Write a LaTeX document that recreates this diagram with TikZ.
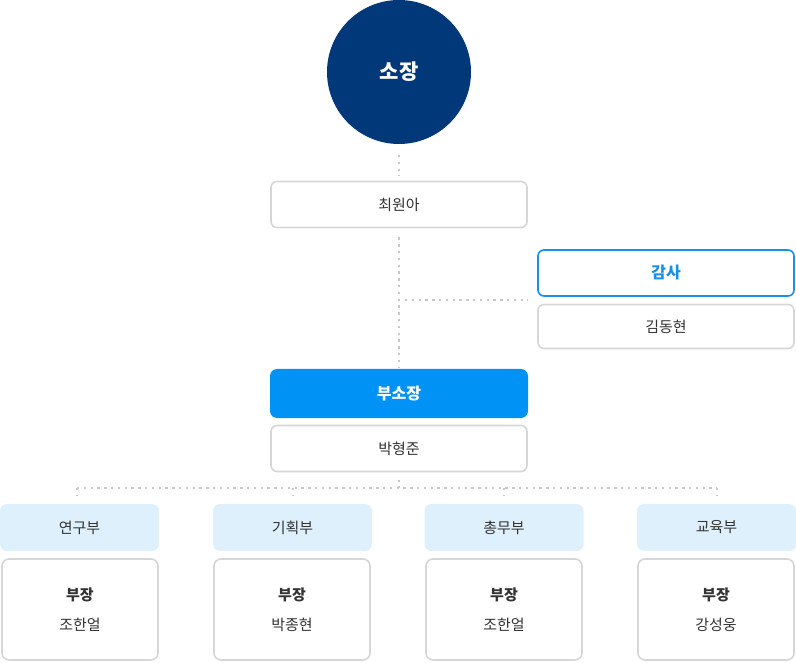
\documentclass[tikz,border=0pt]{standalone}
\usepackage{fontspec}
\setmainfont{Noto Sans CJK KR}
\definecolor{navy}{HTML}{00387A}
\definecolor{bblue}{HTML}{0093F5}
\definecolor{eblue}{HTML}{1A8FE8}
\definecolor{lblue}{HTML}{DDF0FC}
\definecolor{gborder}{HTML}{D6D6D6}
\definecolor{txt}{HTML}{333333}
\definecolor{dotc}{HTML}{C8C8C8}
\begin{document}
\begin{tikzpicture}[x=1pt,y=-1pt,
  every node/.style={inner sep=0pt, outer sep=0pt},
  wbox/.style={draw=gborder, line width=1.6pt, fill=white, rounded corners=6pt, minimum width=256pt, text=txt, font=\fontsize{15}{17}\selectfont},
  ebox/.style={draw=eblue, line width=1.6pt, fill=white, rounded corners=6pt, minimum width=256pt, text=eblue, font=\fontsize{16}{18}\selectfont\bfseries},
  fbox/.style={fill=bblue, rounded corners=7pt, minimum width=258pt, text=white, font=\fontsize{16}{18}\selectfont\bfseries},
  dept/.style={fill=lblue, rounded corners=7pt, minimum width=159pt, minimum height=47pt, text=txt, font=\fontsize{15}{17}\selectfont},
  head/.style={draw=gborder, line width=1.6pt, fill=white, rounded corners=7pt, minimum width=156pt, minimum height=101pt, text=txt, align=center, font=\fontsize{15}{30}\selectfont},
  dots/.style={draw=dotc, line width=2.4pt, dash pattern=on 2.4pt off 4.4pt}
]
\useasboundingbox (0,0) rectangle (796,663);
% top circle
\node[circle, fill=navy, minimum size=144pt, text=white, font=\fontsize{21}{24}\selectfont\bfseries] (so) at (399,72) {소장};
\node[wbox, minimum height=46pt] (choi) at (399,204.5) {최원아};
\node[ebox, minimum height=46pt] (gamsa) at (666,273) {감사};
\node[wbox, minimum height=44pt] (kim) at (666,326.5) {김동현};
\node[fbox, minimum height=49pt] (bu) at (399,393.5) {부소장};
\node[wbox, minimum height=46pt] (park) at (399,448.5) {박형준};
% departments
\node[dept] (d1) at (79.5,527.5) {연구부};
\node[dept] (d2) at (292.5,527.5) {기획부};
\node[dept] (d3) at (504,527.5) {총무부};
\node[dept] (d4) at (716.5,527.5) {교육부};
\node[head] (h1) at (80,609.5) {\textbf{부장}\\조한얼};
\node[head] (h2) at (292,609.5) {\textbf{부장}\\박종현};
\node[head] (h3) at (504,609.5) {\textbf{부장}\\조한얼};
\node[head] (h4) at (716,609.5) {\textbf{부장}\\강성웅};
% junctions
\coordinate (j1) at (399,300);
\coordinate (gend) at (528,300);
\coordinate (j2) at (399,488);
\coordinate (bl) at (77,488);
\coordinate (br) at (717,488);
\coordinate (t1) at (77,488);
\coordinate (t2) at (293,488);
\coordinate (t3) at (504,488);
\coordinate (t4) at (717,488);
% connectors
\draw[dots, shorten <=11pt, shorten >=5pt] (so) -- (choi);
\draw[dots, shorten <=10pt, shorten >=1pt] (choi) -- (bu);
\draw[dots, shorten <=6pt] (j1) -- (gend);
\draw[dots, shorten <=8pt] (park) -- (j2);
\draw[dots] (bl) -- (br);
\draw[dots, shorten >=8pt] (t1) -- (d1.north -| t1);
\draw[dots, shorten >=8pt] (t2) -- (d2.north -| t2);
\draw[dots, shorten >=8pt] (t3) -- (d3.north -| t3);
\draw[dots, shorten >=8pt] (t4) -- (d4.north -| t4);
\end{tikzpicture}
\end{document}
